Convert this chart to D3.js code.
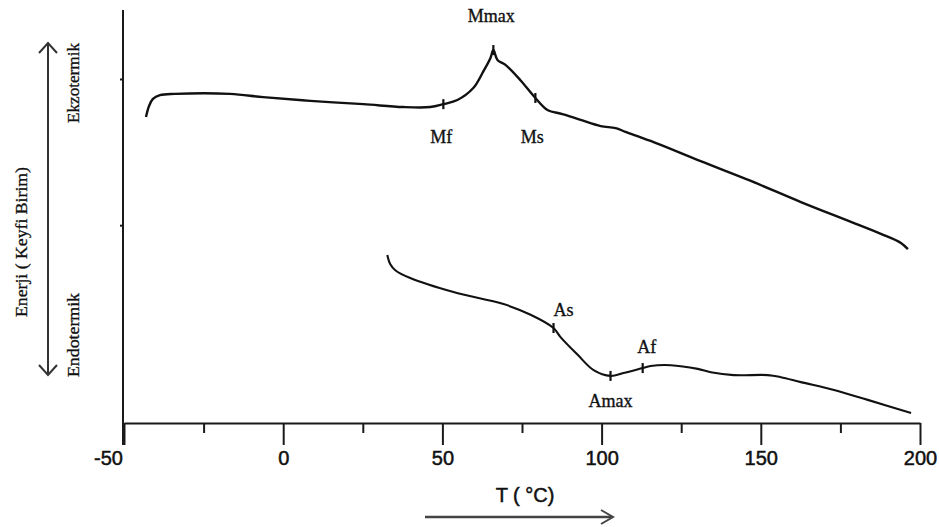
<!DOCTYPE html>
<html>
<head>
<meta charset="utf-8">
<script src="https://cdn.jsdelivr.net/npm/d3@7"></script>
<style>
  html, body { margin: 0; padding: 0; background: #fff; }
  svg { display: block; }
</style>
</head>
<body>
<svg id="chart" width="939" height="527"></svg>
<script>
// DSC thermogram: cooling (exothermic) and heating (endothermic) runs
// Temperature in °C, energy in arbitrary units

const coolingT = [-43.1, -42.1, -40.9, -38.7, -34.0, -16.7, -6.3, 8.5, 25.2, 37.7, 46.2, 50.3, 54.7, 59.7, 62.9, 65.1, 66.0, 67.3, 69.8, 74.5, 79.2, 83.0, 87.7, 93.4, 99.7, 104.4, 107.5, 115.4, 131.1, 146.9, 162.6, 178.3, 187.7, 194.0, 196.2];
const coolingE = [7.41, 7.68, 7.85, 7.94, 7.97, 7.97, 7.89, 7.80, 7.72, 7.65, 7.65, 7.72, 7.82, 8.11, 8.52, 8.84, 9.03, 8.79, 8.67, 8.30, 7.87, 7.58, 7.48, 7.34, 7.19, 7.14, 7.05, 6.83, 6.34, 5.86, 5.35, 4.87, 4.58, 4.36, 4.21];

const heatingT = [32.7, 33.6, 35.2, 39.9, 53.5, 69.2, 77.7, 84.9, 87.1, 92.5, 97.5, 102.8, 106.9, 112.9, 115.4, 121.7, 130.2, 134.3, 141.5, 152.2, 156.3, 162.6, 173.0, 183.6, 197.2];
const heatingE = [4.07, 3.85, 3.70, 3.51, 3.17, 2.88, 2.62, 2.30, 2.08, 1.65, 1.28, 1.14, 1.21, 1.33, 1.38, 1.40, 1.31, 1.23, 1.16, 1.16, 1.11, 0.99, 0.80, 0.56, 0.24];

// Transformation points: label, temperature, energy
const coolingMarks = ["Mf", "Mmax", "Ms"];
const coolingMarkT = [50.3, 66.0, 79.2];
const coolingMarkE = [7.72, 9.03, 7.87];
const heatingMarks = ["As", "Amax", "Af"];
const heatingMarkT = [84.9, 102.8, 112.9];
const heatingMarkE = [2.30, 1.14, 1.33];

const xMajorTicks = [-50, 0, 50, 100, 150, 200];
const xMinorTicks = [-25, 25, 75, 125, 175];
const yTicks = [8.33, 4.79];

const xTitle = "T ( °C)";
const yTitle = "Enerji ( Keyfi Birim)";
const exoLabel = "Ekzotermik";
const endoLabel = "Endotermik";

const svg = d3.select("#chart");

const x = d3.scaleLinear().domain([-50, 200]).range([124, 920]);
const y = d3.scaleLinear().domain([0, 10]).range([423, 10]);
const ink = "#1a1a1a";

// Axes
const xAxisMinor = svg.append("g")
  .attr("transform", `translate(0,${y(0)})`)
  .call(d3.axisBottom(x).tickValues(xMinorTicks).tickSize(10).tickFormat(""));
const xAxis = svg.append("g")
  .attr("transform", `translate(0,${y(0)})`)
  .call(d3.axisBottom(x).tickValues(xMajorTicks).tickSize(22).tickSizeOuter(0).tickPadding(6)
        .tickFormat(d => d3.format("d")(d).replace("−", "-")));
[xAxisMinor, xAxis].forEach(g => {
  g.selectAll("path").attr("stroke", ink).attr("stroke-width", 2);
  g.selectAll("line").attr("stroke", ink).attr("stroke-width", 2);
});
xAxisMinor.select(".domain").remove();
xAxis.selectAll("text")
  .attr("fill", "#111")
  .attr("stroke", "#111").attr("stroke-width", 0.5)
  .attr("font-family", "Liberation Sans, Arial, sans-serif")
  .attr("font-size", 20)
  .attr("dx", d => d === -50 ? -16 : 0);

const yAxis = svg.append("g")
  .attr("transform", `translate(${x(-50) - 1},0)`)
  .call(d3.axisLeft(y).tickValues(yTicks).tickSize(3).tickSizeOuter(0).tickFormat(""));
yAxis.select(".domain").remove();
yAxis.selectAll("line").attr("stroke", ink).attr("stroke-width", 2);
svg.append("line")
  .attr("x1", x(-50) - 1).attr("x2", x(-50) - 1)
  .attr("y1", y(10)).attr("y2", y(0) + 22)
  .attr("stroke", ink).attr("stroke-width", 2);

// Curves
const line = d3.line()
  .x(d => x(d[0]))
  .y(d => y(d[1]))
  .curve(d3.curveCatmullRom.alpha(0.5));

const cooling = coolingT.map((t, i) => [t, coolingE[i]]);
const heating = heatingT.map((t, i) => [t, heatingE[i]]);

svg.append("path").datum(cooling)
  .attr("d", line).attr("fill", "none")
  .attr("stroke", "#111").attr("stroke-width", 2.4)
  .attr("stroke-linejoin", "round");
svg.append("path").datum(heating)
  .attr("d", line).attr("fill", "none")
  .attr("stroke", "#111").attr("stroke-width", 2.1)
  .attr("stroke-linejoin", "round");

// Transformation markers and labels
const serif = "Liberation Serif, Times New Roman, serif";
function marks(names, ts, es, offsets) {
  names.forEach((n, i) => {
    const px = x(ts[i]), py = y(es[i]);
    svg.append("line")
      .attr("x1", px).attr("x2", px)
      .attr("y1", py - 5).attr("y2", py + 5)
      .attr("stroke", "#111").attr("stroke-width", 2.2);
    svg.append("text")
      .attr("x", px + offsets[i][0]).attr("y", offsets[i][1])
      .attr("text-anchor", "middle")
      .attr("font-family", serif).attr("font-size", 18)
      .attr("fill", "#111").attr("stroke", "#111").attr("stroke-width", 0.35)
      .text(n);
  });
}
marks(coolingMarks, coolingMarkT, coolingMarkE, [[-2, 143], [-2, 22], [-3, 143]]);
marks(heatingMarks, heatingMarkT, heatingMarkE, [[10, 316], [0, 407], [4, 353]]);

// X axis title and direction arrow
svg.append("text")
  .attr("x", 525).attr("y", 502)
  .attr("text-anchor", "middle")
  .attr("font-family", "Liberation Sans, Arial, sans-serif")
  .attr("font-size", 20).attr("fill", "#111")
  .attr("stroke", "#111").attr("stroke-width", 0.5)
  .text(xTitle);
svg.append("line")
  .attr("x1", 425).attr("x2", 612).attr("y1", 517).attr("y2", 517)
  .attr("stroke", "#444").attr("stroke-width", 2.6);
svg.append("path")
  .attr("d", "M601,510 L613,517 L601,524")
  .attr("fill", "none").attr("stroke", "#444").attr("stroke-width", 2);

// Y direction arrow (exo up, endo down)
svg.append("line")
  .attr("x1", 48).attr("x2", 48).attr("y1", 44).attr("y2", 374)
  .attr("stroke", "#333").attr("stroke-width", 2);
svg.append("path")
  .attr("d", "M39,53 L48,43 L57,53 M39,365 L48,375 L57,365")
  .attr("fill", "none").attr("stroke", "#333").attr("stroke-width", 2);

function vText(txt, cx, cy, len, size) {
  svg.append("text")
    .attr("transform", `translate(${cx},${cy}) rotate(-90)`)
    .attr("text-anchor", "middle")
    .attr("dy", "0.35em")
    .attr("font-family", serif).attr("font-size", size)
    .attr("fill", "#111").attr("stroke", "#111").attr("stroke-width", 0.3)
    .attr("textLength", len).attr("lengthAdjust", "spacingAndGlyphs")
    .text(txt);
}
vText(yTitle, 21, 242, 150, 16);
vText(exoLabel, 73, 83, 80, 16);
vText(endoLabel, 73, 335, 84, 16);
</script>
</body>
</html>
